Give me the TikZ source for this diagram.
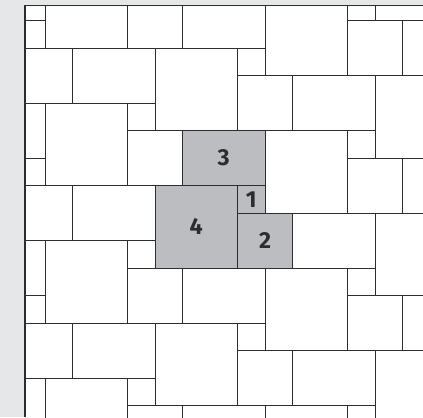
\documentclass[tikz,border=0pt]{standalone}
\usepackage{fontspec}
\setsansfont{Fira Sans}
\definecolor{backgrey}{HTML}{E6E7E8}
\definecolor{stonegrey}{HTML}{BCBDC0}
\definecolor{jointcol}{HTML}{2D2D2D}
\tikzstyle{joint} = [draw=jointcol, line width=1pt]
\tikzstyle{stone} = [joint, fill=stonegrey, inner sep=0pt, text=jointcol, font=\sffamily\bfseries\fontsize{24}{28}\selectfont]

\begin{document}
\begin{tikzpicture}[x=1cm,y=-1cm]
\useasboundingbox (-1.6364,-0.7455) rectangle (13.7455,14.4182);
\fill[backgrey] (-1.6364,-0.7455) rectangle (13.7455,14.4182);
\fill[white] (-0.7273,-0.55) rectangle (13.7455,14.4182);
\begin{scope}
\clip (-0.7273,-0.55) rectangle (13.7455,14.4182);
\foreach \a in {-2,...,2}{
  \foreach \b in {-2,...,4}{
    \pgfmathsetmacro{\x}{4+4*\a}
    \pgfmathsetmacro{\y}{1+5*\b-2*\a}
    \draw[joint] (\x,\y) rectangle ++(3,3);
    \draw[joint] (\x+1,\y-2) rectangle ++(3,2);
    \draw[joint] (\x+3,\y) rectangle ++(1,1);
    \draw[joint] (\x+3,\y+1) rectangle ++(2,2);
  }
}
\end{scope}
\draw[joint, line width=1.3pt] (-0.7273,14.4182) |- (13.7455,-0.55);
\node[stone, minimum width=3cm, minimum height=2cm] at (6.5,5) (stone3) {3};
\node[stone, minimum width=3cm, minimum height=3cm] at (5.5,7.5) (stone4) {4};
\node[stone, minimum width=1cm, minimum height=1cm] at (7.5,6.5) (stone1) {1};
\node[stone, minimum width=2cm, minimum height=2cm] at (8,8) (stone2) {2};
\end{tikzpicture}
\end{document}
